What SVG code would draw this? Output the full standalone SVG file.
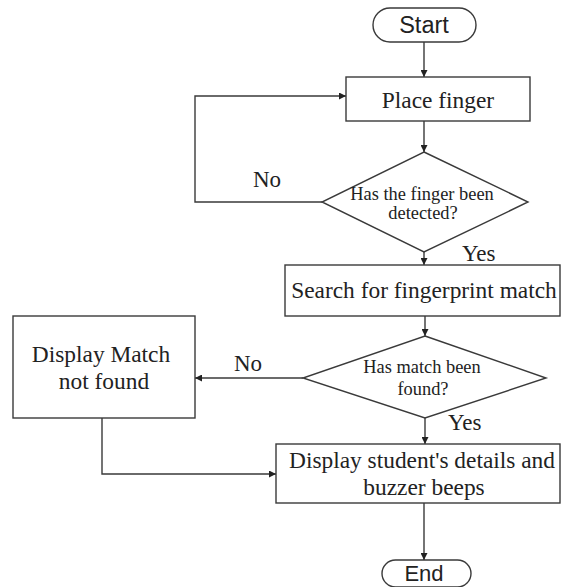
<svg xmlns="http://www.w3.org/2000/svg" width="561" height="587" viewBox="0 0 561 587">
  <style>
    .shape { fill: #ffffff; stroke: #3a3a3a; stroke-width: 1.4; }
    .edge { fill: none; stroke: #3a3a3a; stroke-width: 1.4; }
    .serif { font-family: "Liberation Serif", "Times New Roman", serif; fill: #222222; text-anchor: middle; }
    .sans { font-family: "Liberation Sans", Arial, sans-serif; fill: #222222; text-anchor: middle; font-size: 22px; }
    .big { font-size: 23.4px; }
    .small { font-size: 18.4px; }
    .lbl { font-family: "Liberation Serif", "Times New Roman", serif; fill: #222222; font-size: 23px; }
  </style>
  <defs>
    <marker id="arrow" viewBox="0 0 10 10" refX="10" refY="5" markerWidth="7" markerHeight="7" markerUnits="userSpaceOnUse" orient="auto">
      <path d="M0,0 L10,5 L0,10 Z" fill="#222222"/>
    </marker>
  </defs>

  <rect width="561" height="587" fill="#ffffff"/>

  <!-- connectors -->
  <g id="connectors">
    <path class="edge" d="M424,36 L424,77" marker-end="url(#arrow)"/>
    <path class="edge" d="M424,121 L424,152" marker-end="url(#arrow)"/>
    <path class="edge" d="M322,202 L195,202 L195,96 L346,96" marker-end="url(#arrow)"/>
    <path class="edge" d="M424,252 L424,265" marker-end="url(#arrow)"/>
    <path class="edge" d="M425,316 L425,336" marker-end="url(#arrow)"/>
    <path class="edge" d="M303,378 L195,378" marker-end="url(#arrow)"/>
    <path class="edge" d="M425,418 L425,444" marker-end="url(#arrow)"/>
    <path class="edge" d="M102,418 L102,474 L276,474" marker-end="url(#arrow)"/>
    <path class="edge" d="M424,503 L424,560" marker-end="url(#arrow)"/>
    <text class="lbl" x="253" y="187">No</text>
    <text class="lbl" x="462" y="261">Yes</text>
    <text class="lbl" x="234" y="371">No</text>
    <text class="lbl" x="448" y="430">Yes</text>
  </g>

  <!-- nodes -->
  <g id="start">
    <rect class="shape" x="373" y="8" width="103" height="34" rx="17"/>
    <text class="sans" x="424" y="33" style="font-size:23.5px">Start</text>
  </g>

  <g id="place-finger">
    <rect class="shape" x="346" y="77" width="184" height="44"/>
    <text class="serif big" x="438" y="108">Place finger</text>
  </g>

  <g id="finger-detected">
    <polygon class="shape" points="424,152 528,202 424,252 322,202"/>
    <text class="serif small" x="422" y="200">Has the finger been</text>
    <text class="serif small" x="423" y="219">detected?</text>
  </g>

  <g id="search-match">
    <rect class="shape" x="285" y="265" width="275" height="51"/>
    <text class="serif big" x="424" y="298">Search for fingerprint match</text>
  </g>

  <g id="match-found">
    <polygon class="shape" points="425,336 546,378 425,418 303,378"/>
    <text class="serif small" x="422" y="373">Has match been</text>
    <text class="serif small" x="423" y="395">found?</text>
  </g>

  <g id="match-not-found">
    <rect class="shape" x="13" y="316" width="182" height="102"/>
    <text class="serif big" x="101" y="362">Display Match</text>
    <text class="serif big" x="104" y="389">not found</text>
  </g>

  <g id="show-details">
    <rect class="shape" x="276" y="444" width="284" height="59"/>
    <text class="serif big" x="422" y="468">Display student's details and</text>
    <text class="serif big" x="424" y="495">buzzer beeps</text>
  </g>

  <g id="end">
    <rect class="shape" x="382" y="560" width="89" height="27" rx="13.5"/>
    <text class="sans" x="424" y="581">End</text>
  </g>
</svg>
